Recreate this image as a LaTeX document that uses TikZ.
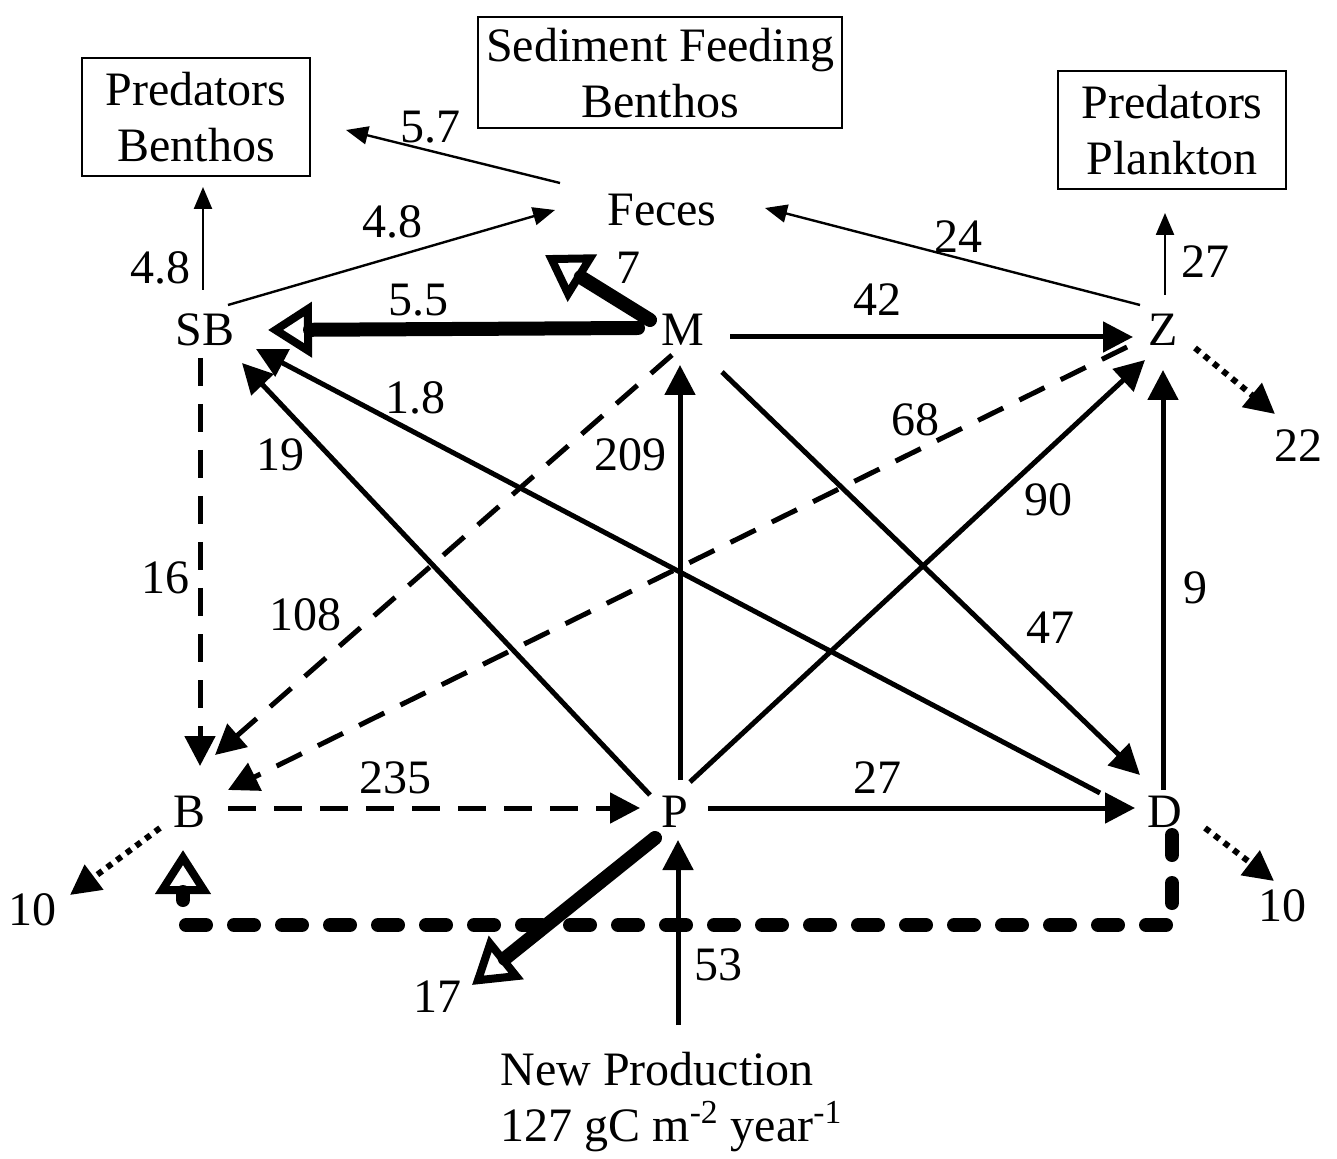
\documentclass[tikz,border=0pt]{standalone}
\usepackage{fontspec}
\setmainfont{Liberation Serif}
\usetikzlibrary{arrows.meta}

\begin{document}
\begin{tikzpicture}[x=.5pt,y=-.5pt,
  every node/.style={font=\fontsize{24}{28}\selectfont},
  num/.style={inner sep=0pt},
  box/.style={draw,line width=1pt,align=center,inner sep=0pt,minimum width=114pt,minimum height=59pt},
  thinflow/.style={line width=1.2pt,-{Triangle[length=11pt,width=9pt]}},
  flow/.style={line width=2.5pt,-{Triangle[length=15pt,width=15pt]}},
  dflow/.style={flow,dash pattern=on 14pt off 9pt},
  dotflow/.style={line width=3pt,dash pattern=on 3pt off 3pt,-{Triangle[length=15pt,width=15pt]}},
  fatflow/.style={line width=7pt,line cap=round,line join=round,-{Triangle[open,line width=4pt,length=22pt,width=27pt]}}]
\useasboundingbox (0,0) rectangle (1337,1159);

\node[box] (PB) at (196,117) {Predators\\Benthos};
\node[box,minimum width=182pt,minimum height=55.5pt] (SF) at (660,73) {Sediment Feeding\\Benthos};
\node[box] (PP) at (1172,130) {Predators\\Plankton};
\node[num] (F) at (662,210) {Feces};
\node[num] (SB) at (205,330) {SB};
\node[num] (M) at (683,330) {M};
\node[num] (Z) at (1163,330) {Z};
\node[num] (B) at (190,812) {B};
\node[num] (P) at (675,812) {P};
\node[num] (D) at (1165,812) {D};
\node[align=left,anchor=west,inner sep=0pt] (NP) at (500,1102) {New Production\\127 gC m\textsuperscript{-2} year\textsuperscript{-1}};
\node[num] (L10) at (33,910) {10};
\node[num] (R10) at (1282,906) {10};
\node[num] (O22) at (1298,446) {22};
\node[num] (O17) at (437,997) {17};

% upper level
\draw[thinflow] ([shift={(-2,-40)}]SB.center) -- ([shift={(7,10)}]PB.south);
\draw[thinflow] ([shift={(23,-25)}]SB.center) -- ([shift={(-107,0)}]F.center);
\draw[thinflow] ([shift={(-102,-27)}]F.center) -- ([shift={(35,13)}]PB.east);
\draw[thinflow] ([shift={(-23,-25)}]Z.center) -- ([shift={(103,-2)}]F.center);
\draw[thinflow] ([shift={(2,-35)}]Z.center) -- ([shift={(-7,23)}]PP.south);
\draw[fatflow] ([shift={(-33,-10)}]M.center) -- ([shift={(-117,45)}]F.center);
\draw[fatflow] ([shift={(-45,-2)}]M.center) -- ([shift={(63,0)}]SB.center);
\draw[flow] ([shift={(47,7)}]M.center) -- ([shift={(-30,7)}]Z.center);

% cross flows
\draw[dflow] ([shift={(-36,17)}]Z.center) -- ([shift={(38,-22)}]B.center);
\draw[dflow] ([shift={(-11,25)}]M.center) -- ([shift={(25,-57)}]B.center);
\draw[dflow] ([shift={(-5,28)}]SB.center) -- ([shift={(10,-46)}]B.center);
\draw[flow] ([shift={(-25,-17)}]P.center) -- ([shift={(37,33)}]SB.center);
\draw[flow] ([shift={(-65,-19)}]D.center) -- ([shift={(51,19)}]SB.center);
\draw[flow] ([shift={(5,-32)}]P.center) -- ([shift={(-3,35)}]M.center);
\draw[flow] ([shift={(15,-30)}]P.center) -- ([shift={(-18,30)}]Z.center);
\draw[flow] ([shift={(39,42)}]M.center) -- ([shift={(-25,-37)}]D.center);
\draw[flow] ([shift={(-2,-22)}]D.center) -- ([shift={(0,40)}]Z.center);

% lower level
\draw[dflow] ([shift={(38,-4)}]B.center) -- ([shift={(-35,-4)}]P.center);
\draw[flow] ([shift={(33,-4)}]P.center) -- ([shift={(-30,-4)}]D.center);
\draw[fatflow] ([shift={(-20,26)}]P.center) -- ([shift={(35,-12)}]O17.center);
\draw[flow] ([shift={(178,-77)}]NP.west) -- ([shift={(3,28)}]P.center);
\draw[fatflow,dash pattern=on 10pt off 14pt] ([shift={(7,23)}]D.center) -- ++(0,90) -| ([shift={(-7,38)}]B.center);
\draw[dotflow] ([shift={(-30,16)}]B.center) -- ([shift={(37,-15)}]L10.center);
\draw[dotflow] ([shift={(40,16)}]D.center) -- ([shift={(-8,-25)}]R10.center);
\draw[dotflow] ([shift={(32,18)}]Z.center) -- ([shift={(-23,-32)}]O22.center);

\node[num] (l1) at (160,268) {4.8};
\node[num] (l2) at (392,222) {4.8};
\node[num] (l3) at (430,127) {5.7};
\node[num] (l4) at (958,237) {24};
\node[num] (l5) at (1205,262) {27};
\node[num] (l6) at (628,268) {7};
\node[num] (l7) at (418,300) {5.5};
\node[num] (l8) at (877,300) {42};
\node[num] (l9) at (915,420) {68};
\node[num] (l10) at (305,615) {108};
\node[num] (l11) at (165,578) {16};
\node[num] (l12) at (280,455) {19};
\node[num] (l13) at (415,398) {1.8};
\node[num] (l14) at (630,455) {209};
\node[num] (l15) at (1048,500) {90};
\node[num] (l16) at (1050,628) {47};
\node[num] (l17) at (1195,588) {9};
\node[num] (l18) at (395,778) {235};
\node[num] (l19) at (877,778) {27};
\node[num] (l20) at (718,965) {53};
\end{tikzpicture}
\end{document}
